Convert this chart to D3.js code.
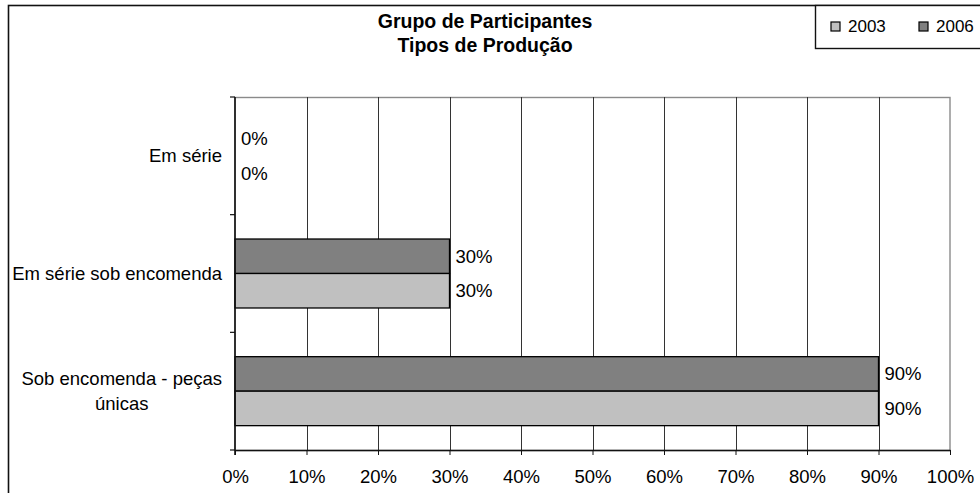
<!DOCTYPE html>
<html>
<head>
<meta charset="utf-8">
<script src="https://cdn.jsdelivr.net/npm/d3@7"></script>
<style>
  html, body { margin: 0; padding: 0; background: #fff; }
  svg { display: block; font-family: "Liberation Sans", Arial, sans-serif; }
</style>
</head>
<body>
<svg id="chart" width="980" height="493"></svg>
<script>
// Production types, top to bottom
const categories = ["Em série", "Em série sob encomenda", "Sob encomenda - peças únicas"];
// Share of participants per year (%)
const values2003 = [0, 30, 90];
const values2006 = [0, 30, 90];
const seriesNames = ["2003", "2006"];
const xTicks = [0, 10, 20, 30, 40, 50, 60, 70, 80, 90, 100];
const titleLines = ["Grupo de Participantes", "Tipos de Produção"];

const colors = { "2003": "#c0c0c0", "2006": "#808080" };
const series = [
  { name: "2006", values: values2006 },
  { name: "2003", values: values2003 }
];

const svg = d3.select("#chart");
const plot = { left: 235, right: 950, top: 97, bottom: 450 };
const fontSize = 18.5;

// Outer chart frame (continues past the window edge)
svg.append("rect")
  .attr("x", 8.5).attr("y", 5.5)
  .attr("width", 1100).attr("height", 600)
  .attr("fill", "none").attr("stroke", "#111").attr("stroke-width", 1.6);

// Title
svg.append("g").selectAll("text").data(titleLines).join("text")
  .attr("x", 485).attr("y", (d, i) => 28 + i * 24)
  .attr("text-anchor", "middle")
  .attr("font-weight", "bold").attr("font-size", 19.5)
  .text(d => d);

const x = d3.scaleLinear().domain([0, 100]).range([plot.left, plot.right]);
const y = d3.scaleBand().domain(categories).range([plot.top, plot.bottom]);
const ySub = d3.scaleBand().domain(series.map(s => s.name))
  .range([0, y.bandwidth()]).paddingOuter(0.706);

// Plot area border (top/right in grey)
svg.append("rect")
  .attr("x", plot.left).attr("y", plot.top + 0.5)
  .attr("width", plot.right - plot.left).attr("height", plot.bottom - plot.top)
  .attr("fill", "none").attr("stroke", "#8a8a8a").attr("stroke-width", 1.4);

// Vertical gridlines
svg.append("g").selectAll("line").data(xTicks.filter(t => t > 0 && t < 100)).join("line")
  .attr("x1", d => Math.round(x(d)) + 0.5).attr("x2", d => Math.round(x(d)) + 0.5)
  .attr("y1", plot.top).attr("y2", plot.bottom)
  .attr("stroke", "#333").attr("stroke-width", 1);

// Bars
const groups = svg.append("g").selectAll("g").data(series).join("g");
groups.selectAll("rect").data(s => s.values.map((v, i) => ({ s: s.name, v, c: categories[i] })))
  .join("rect")
  .filter(d => d.v > 0)
  .attr("x", x(0)).attr("y", d => y(d.c) + ySub(d.s))
  .attr("width", d => x(d.v) - x(0)).attr("height", ySub.bandwidth())
  .attr("fill", d => colors[d.s]).attr("stroke", "#000").attr("stroke-width", 1.3);

// Value labels
groups.selectAll("text").data(s => s.values.map((v, i) => ({ s: s.name, v, c: categories[i] })))
  .join("text")
  .attr("x", d => x(d.v) + 6)
  .attr("y", d => y(d.c) + ySub(d.s) + ySub.bandwidth() / 2)
  .attr("dy", "0.35em").attr("font-size", fontSize)
  .text(d => d.v + "%");

// X axis
const xAxis = svg.append("g").attr("transform", `translate(0,${plot.bottom})`)
  .call(d3.axisBottom(x).tickValues(xTicks).tickFormat(d => d + "%").tickSize(5).tickSizeOuter(0));
xAxis.select(".domain").attr("stroke", "#111").attr("stroke-width", 1.5);
xAxis.selectAll(".tick line").attr("stroke", "#111");
xAxis.selectAll(".tick text").attr("font-size", fontSize).attr("font-family", null)
  .attr("fill", "#000").attr("y", 20).attr("dy", "0.71em");

// Y axis (boundary ticks between categories)
svg.append("line").attr("x1", plot.left).attr("x2", plot.left)
  .attr("y1", plot.top).attr("y2", plot.bottom + 5)
  .attr("stroke", "#111").attr("stroke-width", 1.6);
const bounds = categories.map(c => y(c)).concat([plot.bottom]);
svg.append("g").selectAll("line").data(bounds).join("line")
  .attr("x1", plot.left - 5).attr("x2", plot.left)
  .attr("y1", d => d).attr("y2", d => d)
  .attr("stroke", "#111").attr("stroke-width", 1.2);

// Category labels, wrapped and centred on their widest line
const labelRight = 222, maxW = 215, lineH = 25;
const catG = svg.append("g").attr("font-size", fontSize);
categories.forEach(c => {
  const probe = catG.append("text").attr("visibility", "hidden");
  const words = c.split(" ");
  const lines = [];
  let cur = "";
  words.forEach(w => {
    const t = cur ? cur + " " + w : w;
    probe.text(t);
    if (probe.node().getComputedTextLength() > maxW && cur) { lines.push(cur); cur = w; }
    else cur = t;
  });
  lines.push(cur);
  const widths = lines.map(l => { probe.text(l); return probe.node().getComputedTextLength(); });
  probe.remove();
  const widest = Math.max(...widths);
  const cx = labelRight - widest / 2;
  const cy = y(c) + y.bandwidth() / 2;
  lines.forEach((l, i) => {
    catG.append("text")
      .attr("x", cx).attr("text-anchor", "middle")
      .attr("y", cy + (i - (lines.length - 1) / 2) * lineH)
      .attr("dy", "0.35em").text(l);
  });
});

// Legend
svg.append("rect")
  .attr("x", 815.5).attr("y", 5.5).attr("width", 300).attr("height", 43)
  .attr("fill", "#fff").attr("stroke", "#111").attr("stroke-width", 1.4);
const legendX = [831, 919];
const leg = svg.append("g").selectAll("g").data(seriesNames).join("g")
  .attr("transform", (d, i) => `translate(${legendX[i]},22)`);
leg.append("rect").attr("width", 9).attr("height", 9)
  .attr("fill", d => colors[d]).attr("stroke", "#000").attr("stroke-width", 1.2);
leg.append("text").attr("x", 17).attr("y", 4.5).attr("dy", "0.35em")
  .attr("font-size", 17).text(d => d);
</script>
</body>
</html>
